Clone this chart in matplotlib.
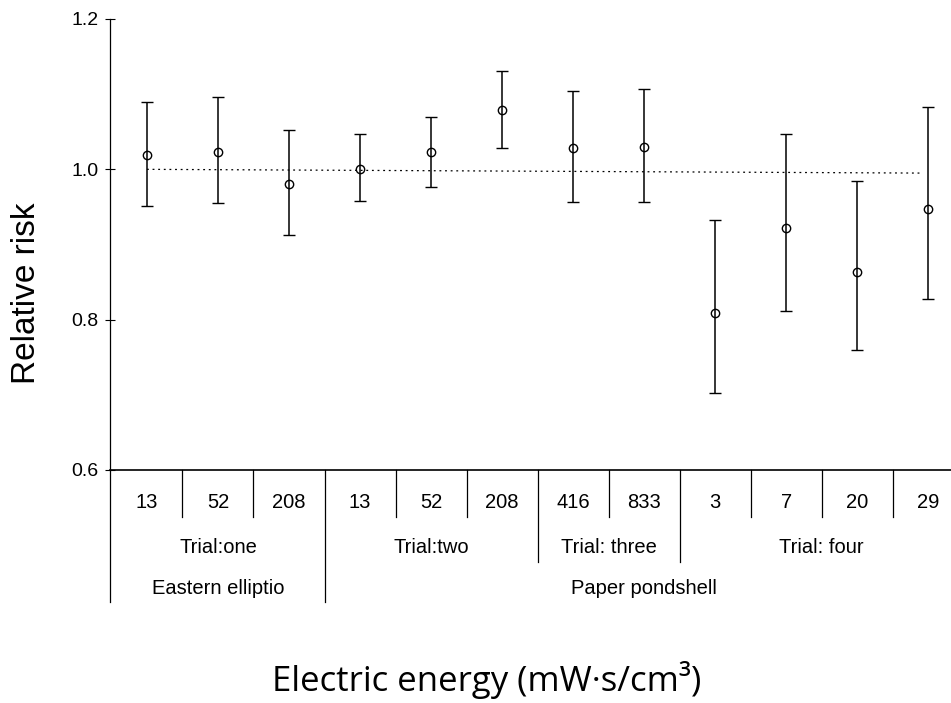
import numpy as np
import matplotlib
matplotlib.use('Agg')
import matplotlib.pyplot as plt
import matplotlib.transforms as mtransforms

# energy labels (mW·s/cm3) for each treatment, left to right
energy = ['13', '52', '208', '13', '52', '208', '416', '833', '3', '7', '20', '29']
rr = [1.019, 1.023, 0.980, 1.001, 1.023, 1.079, 1.029, 1.030, 0.809, 0.922, 0.864, 0.947]
rr_low = [0.951, 0.955, 0.912, 0.958, 0.977, 1.029, 0.957, 0.957, 0.702, 0.811, 0.759, 0.827]
rr_high = [1.090, 1.096, 1.052, 1.047, 1.069, 1.131, 1.104, 1.107, 0.932, 1.047, 0.985, 1.083]

trials = ['Trial:one', 'Trial:two', 'Trial: three', 'Trial: four']
trial_span = [(0, 2), (3, 5), (6, 7), (8, 11)]
species = ['Eastern elliptio', 'Paper pondshell']
species_span = [(0, 2), (3, 11)]

plt.rcParams['font.family'] = ['Liberation Sans', 'DejaVu Sans']

fig = plt.figure(figsize=(9.51, 7.03), dpi=100)
ax = fig.add_axes([110 / 951, 233 / 703, 841 / 951, 451 / 703])

x = np.arange(len(energy))
rr = np.array(rr)
yerr = [rr - np.array(rr_low), np.array(rr_high) - rr]

# reference line at RR = 1
ax.plot([x[0], x[-1] - 0.08], [1.0, 0.995], color='black', lw=0.9, ls=(0, (1.5, 3)))

ax.errorbar(x, rr, yerr=yerr, fmt='o', color='black', mfc='none', mec='black',
            ms=6, mew=1.0, elinewidth=1.1, capsize=4.5, capthick=1.1, zorder=3)

ax.set_xlim(-0.52, 11.32)
ax.set_ylim(0.6, 1.2)
ax.set_yticks([0.6, 0.8, 1.0, 1.2])
ax.set_yticklabels(['0.6', '0.8', '1.0', '1.2'])
ax.tick_params(axis='y', direction='inout', length=7, width=0.8, labelsize=14, pad=5)
ax.set_xticks([])
for s in ['top', 'right']:
    ax.spines[s].set_visible(False)
ax.spines['left'].set_linewidth(0.9)
ax.spines['bottom'].set_linewidth(1.2)

# hierarchical category table under the axis
trans = mtransforms.blended_transform_factory(ax.transData, ax.transAxes)
lev_num, lev_trial, lev_species = -0.104, -0.204, -0.293

for i, lab in enumerate(energy):
    ax.text(x[i], -0.073, lab, transform=trans, ha='center', va='center', fontsize=14.5)

for lab, (a, b) in zip(trials, trial_span):
    ax.text((a + b) / 2, -0.171, lab, transform=trans, ha='center', va='center', fontsize=14.5)

for lab, (a, b) in zip(species, species_span):
    ax.text((a + b) / 2, -0.262, lab, transform=trans, ha='center', va='center', fontsize=14.5)

species_bounds = [b for a, b in species_span[:-1]]
trial_bounds = [b for a, b in trial_span[:-1]]
for i in range(len(energy) - 1):
    if i in species_bounds:
        depth = lev_species
    elif i in trial_bounds:
        depth = lev_trial
    else:
        depth = lev_num
    ax.plot([i + 0.5, i + 0.5], [0, depth], transform=trans, color='black',
            lw=0.9, clip_on=False)
ax.plot([-0.52, -0.52], [0, lev_species], transform=trans, color='black',
        lw=0.9, clip_on=False)

fig.text(27 / 951, 1 - 293 / 703, 'Relative risk', rotation=90, ha='center', va='center',
         fontsize=24)
fig.text(487 / 951, 1 - 680 / 703, 'Electric energy (mW·s/cm³)', ha='center', va='center',
         fontsize=25, family=['Open Sans', 'DejaVu Sans'])

fig.savefig('out.png', dpi=100)
